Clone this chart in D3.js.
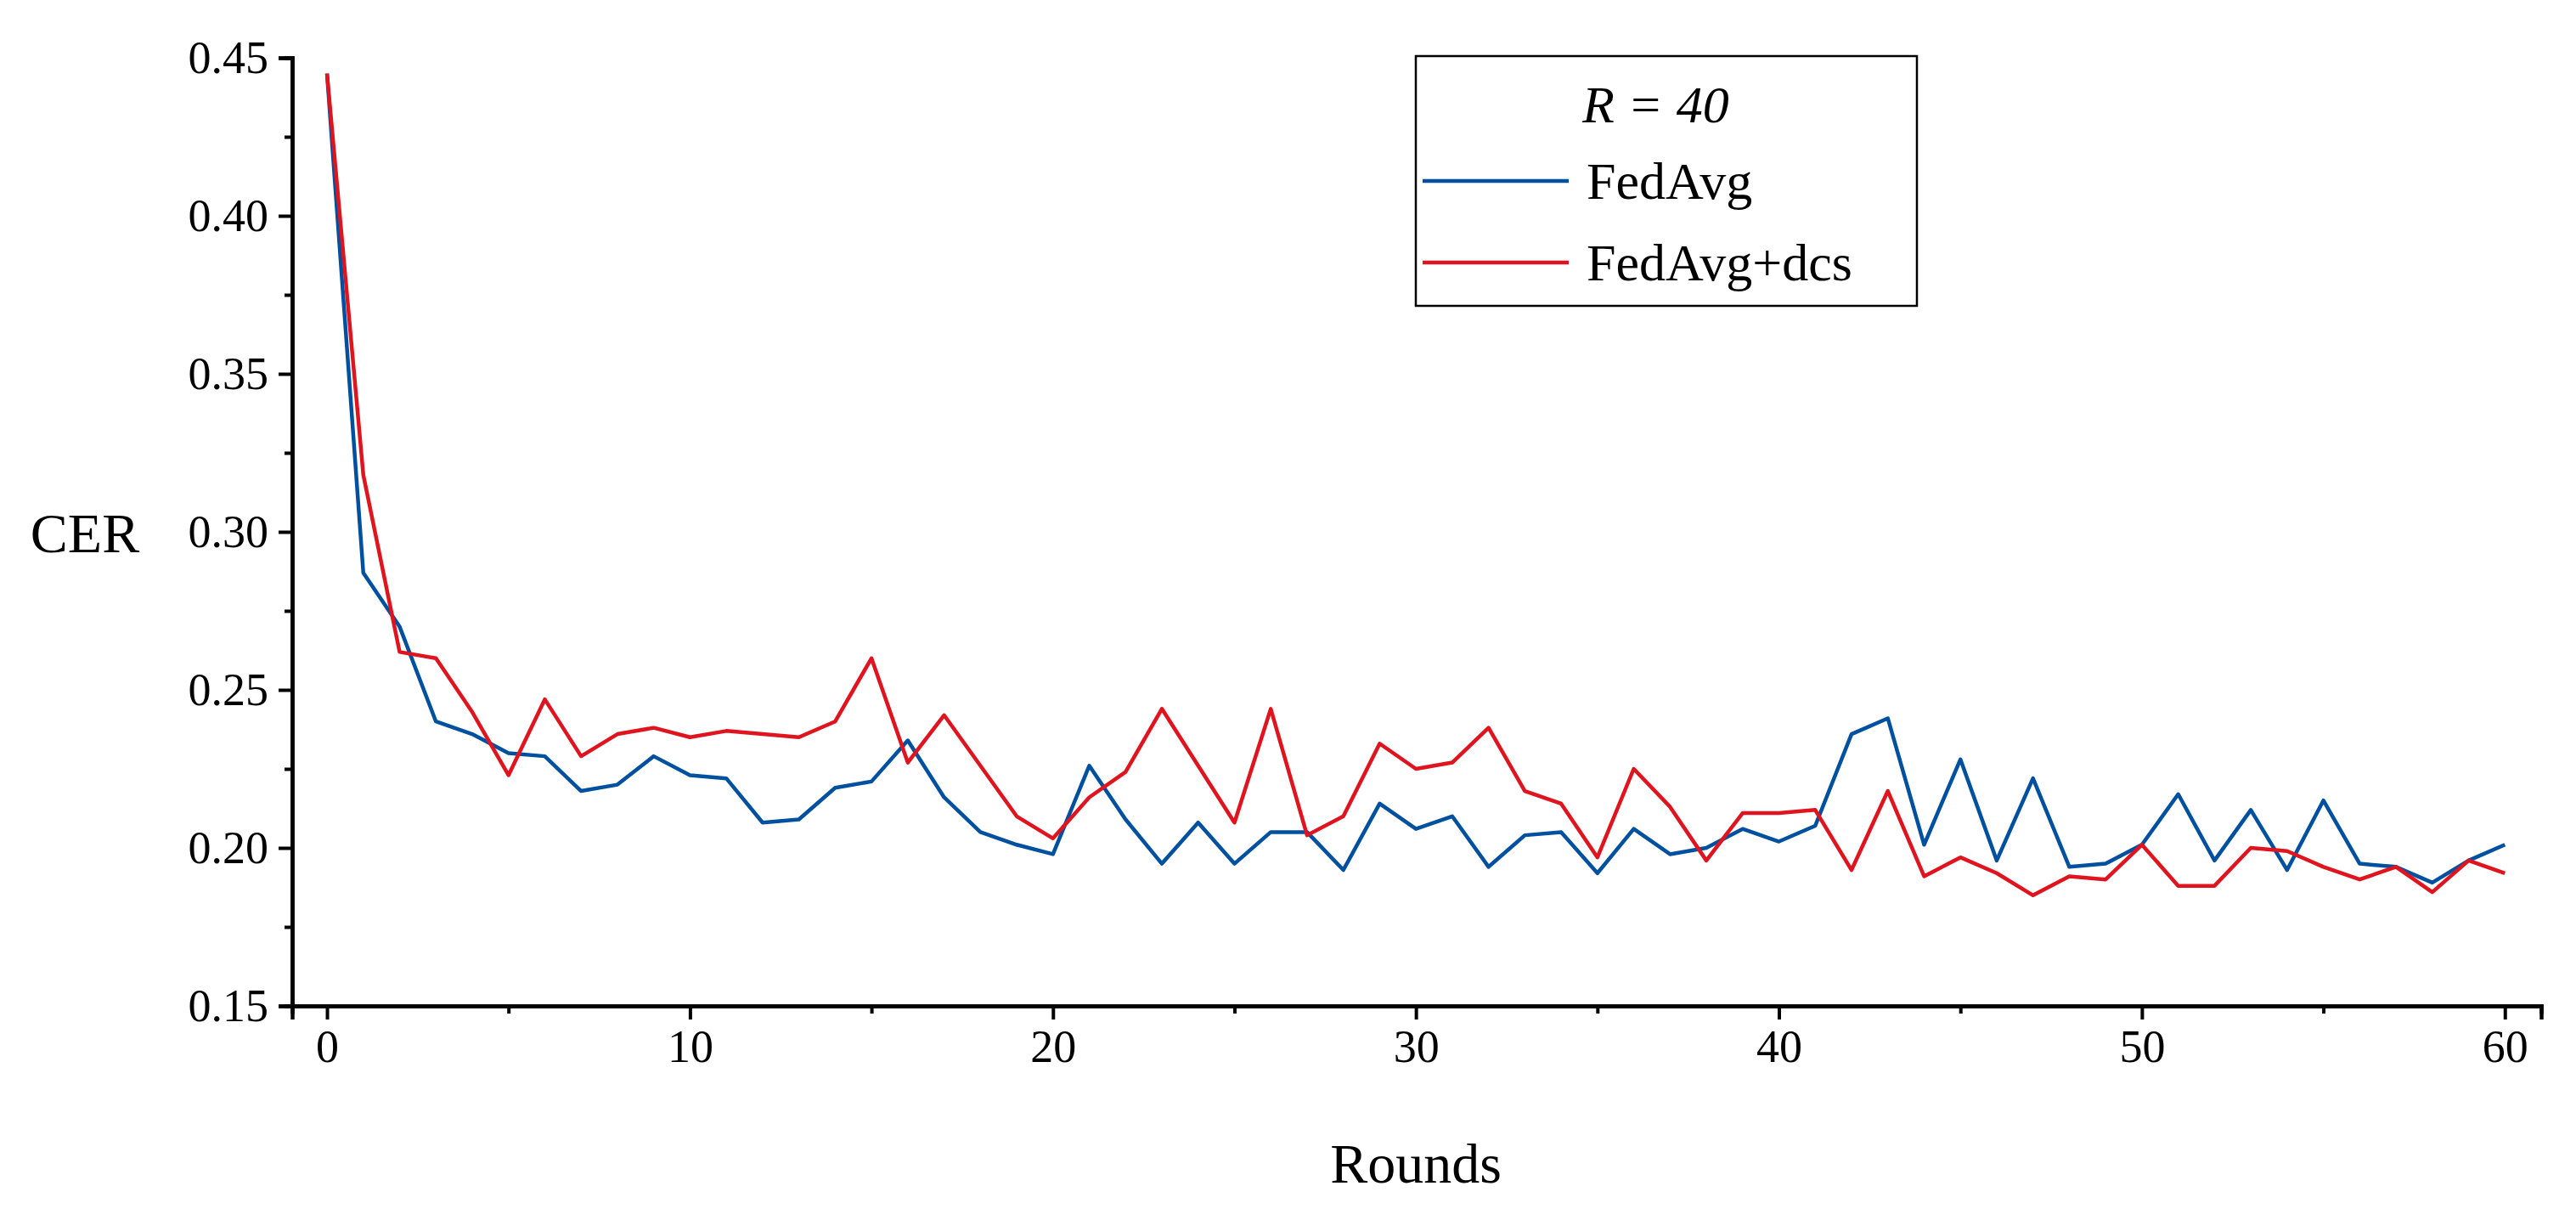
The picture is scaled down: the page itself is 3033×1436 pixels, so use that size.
<!DOCTYPE html>
<html lang="en">
<head>
  <meta charset="UTF-8">
  <script src="https://d3js.org/d3.v7.min.js"></script>
  <title>CER vs Rounds</title>
  <style>
    body { margin: 0; background: #fff; }
    text { font-family: "Liberation Serif", "Times New Roman", serif; fill: #000; }
  </style>
</head>
<body>
  <div id="wrapper"></div>
  <script>
    const rounds = d3.range(0, 61)
    const fedAvg = [0.445, 0.287, 0.270, 0.240, 0.236, 0.230, 0.229, 0.218, 0.220, 0.229,
      0.223, 0.222, 0.208, 0.209, 0.219, 0.221, 0.234, 0.216, 0.205, 0.201,
      0.198, 0.226, 0.209, 0.195, 0.208, 0.195, 0.205, 0.205, 0.193, 0.214,
      0.206, 0.210, 0.194, 0.204, 0.205, 0.192, 0.206, 0.198, 0.200, 0.206,
      0.202, 0.207, 0.236, 0.241, 0.201, 0.228, 0.196, 0.222, 0.194, 0.195,
      0.201, 0.217, 0.196, 0.212, 0.193, 0.215, 0.195, 0.194, 0.189, 0.196, 0.201]
    const fedAvgDcs = [0.445, 0.318, 0.262, 0.260, 0.243, 0.223, 0.247, 0.229, 0.236, 0.238,
      0.235, 0.237, 0.236, 0.235, 0.240, 0.260, 0.227, 0.242, 0.226, 0.210,
      0.203, 0.216, 0.224, 0.244, 0.226, 0.208, 0.244, 0.204, 0.210, 0.233,
      0.225, 0.227, 0.238, 0.218, 0.214, 0.197, 0.225, 0.213, 0.196, 0.211,
      0.211, 0.212, 0.193, 0.218, 0.191, 0.197, 0.192, 0.185, 0.191, 0.190,
      0.201, 0.188, 0.188, 0.200, 0.199, 0.194, 0.190, 0.194, 0.186, 0.196, 0.192]
    const seriesNames = ["FedAvg", "FedAvg+dcs"]
    const seriesColors = ["#0050a0", "#e0141e"]
    const xTicks = [0, 10, 20, 30, 40, 50, 60]
    const yTicks = [0.15, 0.20, 0.25, 0.30, 0.35, 0.40, 0.45]

    const width = 3033, height = 1436
    const margin = { top: 68, right: 41, bottom: 252, left: 344 }
    const bw = width - margin.left - margin.right
    const bh = height - margin.top - margin.bottom

    const svg = d3.select("#wrapper").append("svg")
        .attr("width", width).attr("height", height)
    const bounds = svg.append("g")
        .attr("transform", `translate(${margin.left},${margin.top})`)

    const xScale = d3.scaleLinear().domain([-0.96, 61]).range([0, bw])
    const yScale = d3.scaleLinear().domain([0.15, 0.45]).range([bh, 0])

    // axes: major ticks with labels, minor ticks without
    bounds.append("g").attr("transform", `translate(0,${bh})`)
        .call(d3.axisBottom(xScale).tickValues(xTicks).tickSize(16).tickPadding(12).tickFormat(d3.format("d")))
    bounds.append("g").attr("transform", `translate(0,${bh})`)
        .call(d3.axisBottom(xScale).tickValues([5, 15, 25, 35, 45, 55]).tickSize(9).tickFormat(""))
    bounds.append("g")
        .call(d3.axisLeft(yScale).tickValues(yTicks).tickSize(16).tickPadding(12).tickFormat(d3.format(".2f")))
    bounds.append("g")
        .call(d3.axisLeft(yScale).tickValues(d3.range(0.175, 0.45, 0.05)).tickSize(9).tickFormat(""))

    bounds.selectAll(".domain").attr("stroke", "#000").attr("stroke-width", 4.5)
    bounds.selectAll(".tick line").attr("stroke", "#000").attr("stroke-width", 4)
    bounds.selectAll(".tick text")
        .attr("font-size", 54).style("font-size", "54px").attr("fill", "#000")
        .attr("font-family", "'Liberation Serif', serif")

    // lines
    const line = d3.line().x((d, i) => xScale(rounds[i])).y(d => yScale(d))
    ;[fedAvg, fedAvgDcs].forEach((s, k) => {
      bounds.append("path").datum(s)
          .attr("d", line)
          .attr("fill", "none")
          .attr("stroke", seriesColors[k])
          .attr("stroke-width", 4.5)
          .attr("stroke-linejoin", "round")
    })

    // axis titles
    svg.append("text").attr("x", margin.left + xScale(30)).attr("y", 1392)
        .attr("text-anchor", "middle").style("font-size", "66px").text("Rounds")
    svg.append("text").attr("x", 100).attr("y", 650)
        .attr("text-anchor", "middle").style("font-size", "66px").text("CER")

    // legend
    const legend = svg.append("g").attr("transform", "translate(1667,66)")
    legend.append("rect").attr("width", 590).attr("height", 294)
        .attr("fill", "#fff").attr("stroke", "#000").attr("stroke-width", 2.5)
    legend.append("text").attr("x", 196).attr("y", 78)
        .style("font-size", "62px").style("font-style", "italic").text("R = 40")
    seriesNames.forEach((name, i) => {
      const y = 147 + i * 96
      legend.append("line").attr("x1", 8).attr("x2", 180).attr("y1", y).attr("y2", y)
          .attr("stroke", seriesColors[i]).attr("stroke-width", 4.5)
      legend.append("text").attr("x", 201).attr("y", y + 21)
          .style("font-size", "62px").text(name)
    })
  </script>
</body>
</html>
